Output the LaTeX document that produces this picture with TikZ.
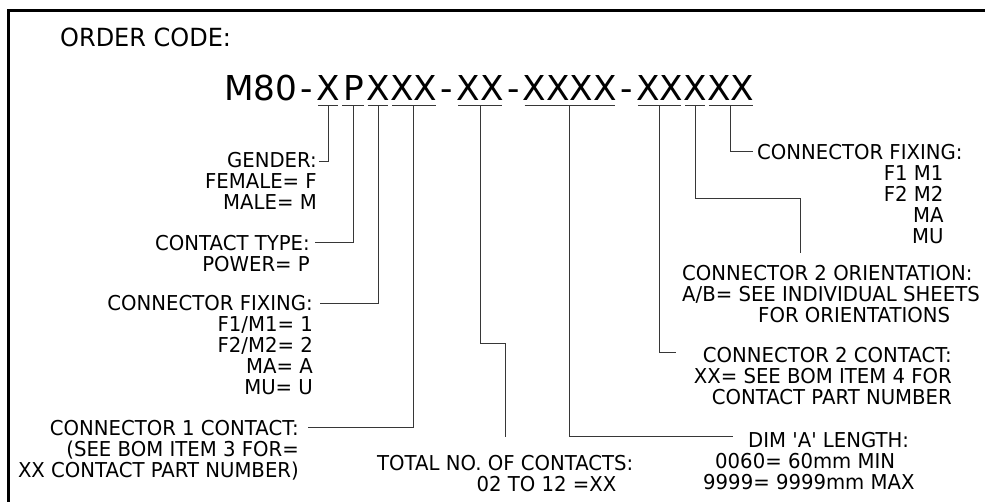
\documentclass[tikz,border=0pt]{standalone}
\usepackage{fontspec}
\usepackage{xcolor}
\usetikzlibrary{positioning}
\newfontfamily\labelfont{DejaVu Sans}[FakeStretch=0.96,Ligatures=TeXOff]
\newfontfamily\codefont{DejaVu Sans}
\definecolor{leadgray}{RGB}{55,55,55}
\newcommand\trail[1]{\hbox to #1{}}

\begin{document}
\begin{tikzpicture}[x=1pt, y=-1pt,
    lbl/.style={font=\labelfont\fontsize{20.5}{21}\selectfont, inner sep=0pt},
    codechar/.style={font=\codefont\fontsize{34.3}{40}\selectfont, inner sep=0pt, text height=25pt, text depth=0pt},
    dash sep/.style={codechar, inner xsep=3pt},
    lead/.style={leadgray, line width=1pt},
    uline/.style={leadgray, line width=1pt}]
    % Bildgroesse festlegen
    \useasboundingbox (0,0) rectangle (985,501);

    % Rahmen (rechts und unten ausserhalb des Bildes)
    \draw[line width=3pt] (8.3,520) -- (8.3,10) -- (1000,10);

    % Ueberschrift
    \node[lbl, font=\labelfont\fontsize{25}{30}\selectfont, anchor=base west] (title) at (60,46) {ORDER CODE:};

    % Bestellcode, jede Stelle als eigener Knoten
    \node[codechar, anchor=base west] (m80) at (224,100) {M80};
    \node[dash sep, right=0pt of m80] (h0) {-};
    \node[codechar, right=0pt of h0] (cGen) {X};
    \node[codechar, inner xsep=2.5pt, right=0pt of cGen] (cTyp) {P};
    \node[codechar, right=0pt of cTyp] (cFixA) {X};
    \node[codechar, right=0pt of cFixA] (cConA) {XX};
    \node[dash sep, right=0pt of cConA] (h1) {-};
    \node[codechar, right=0pt of h1] (cTot) {XX};
    \node[dash sep, right=0pt of cTot] (h2) {-};
    \node[codechar, right=0pt of h2] (cDim) {XXXX};
    \node[dash sep, right=0pt of cDim] (h3) {-};
    \node[codechar, right=0pt of h3] (cConB) {XX};
    \node[codechar, right=0pt of cConB] (cOri) {X};
    \node[codechar, right=0pt of cOri] (cFixB) {XX};

    % Unterstriche und Abgriffspunkte
    \foreach \g in {Gen,Typ,FixA,ConA,Tot,Dim,ConB,Ori,FixB} {
        \draw[uline] ([xshift=2pt,yshift=-5pt]c\g.south west) -- ([xshift=-2pt,yshift=-5pt]c\g.south east);
        \coordinate (p\g) at ([yshift=-5pt]c\g.south);
    }

    % Beschriftungen links
    \node[lbl, anchor=north east, align=right] (gender) at (317,152) {GENDER:\\FEMALE= F\\MALE= M};
    \node[lbl, anchor=north east, align=right] (ctype) at (310,235) {CONTACT TYPE:\\POWER= P};
    \node[lbl, anchor=north east, align=right] (fixA) at (313,295) {CONNECTOR FIXING:\\F1/M1= 1\\F2/M2= 2\\MA= A\\MU= U};
    \node[lbl, anchor=north east, align=right] (conA) at (299,420) {CONNECTOR 1 CONTACT:\\(SEE BOM ITEM 3 FOR=\\XX CONTACT PART NUMBER)};

    % Beschriftungen unten
    \node[lbl, anchor=north west, align=right] (total) at (377,455) {TOTAL NO. OF CONTACTS:\\02 TO 12 =XX\trail{17pt}};
    \node[lbl, anchor=north west, align=left] (dim) at (703,432) {\hspace*{45pt}DIM 'A' LENGTH:\\\hspace*{12pt}0060= 60mm MIN\\9999= 9999mm MAX};

    % Beschriftungen rechts
    \node[lbl, anchor=north west, align=right] (fixB) at (757,144) {CONNECTOR FIXING:\\F1 M1\trail{19pt}\\F2 M2\trail{19pt}\\MA\trail{19pt}\\MU\trail{19pt}};
    \node[lbl, anchor=north west, align=left] (orient) at (682,265) {CONNECTOR 2 ORIENTATION:\\A/B= SEE INDIVIDUAL SHEETS\\\hspace*{76pt}FOR ORIENTATIONS};
    \node[lbl, anchor=north east, align=right] (conB) at (952,347) {CONNECTOR 2 CONTACT:\\XX= SEE BOM ITEM 4 FOR\\CONTACT PART NUMBER};

    % Hinweislinien
    \draw[lead] (pGen) |- ([xshift=2pt,yshift=-9pt]gender.north east);
    \draw[lead] (pTyp) |- ([xshift=5pt,yshift=-7pt]ctype.north east);
    \draw[lead] (pFixA) |- ([xshift=7pt,yshift=-8pt]fixA.north east);
    \draw[lead] (pConA) |- ([xshift=9pt,yshift=-7pt]conA.north east);
    \draw[lead, shorten >=18pt] (pTot) -- ++(0,238) -| (total.north);
    \draw[lead] (pDim) |- ([xshift=30pt,yshift=-4pt]dim.north west);
    \draw[lead] (pConB) |- ([xshift=-18pt,yshift=-5pt]conB.north west);
    \draw[lead] (pOri) |- ([xshift=118pt,yshift=67pt]orient.north west) -- ([xshift=118pt,yshift=12pt]orient.north west);
    \draw[lead] (pFixB) |- ([xshift=-4pt,yshift=-7pt]fixB.north west);

\end{tikzpicture}
\end{document}
